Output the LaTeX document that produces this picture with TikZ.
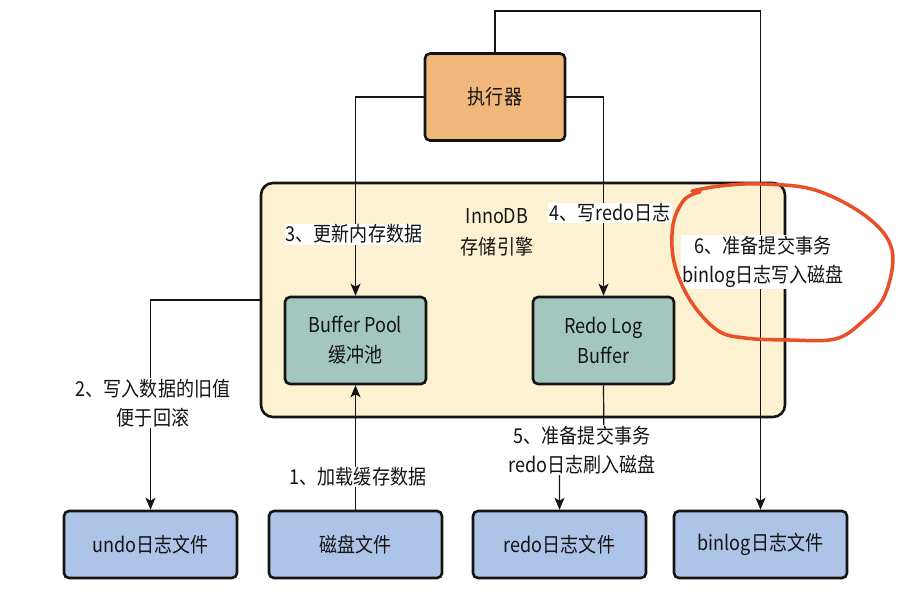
\documentclass[tikz,border=0pt]{standalone}
\usepackage{fontspec}
\setmainfont[FakeStretch=0.88]{Noto Sans CJK SC}
\usetikzlibrary{arrows.meta}
\definecolor{exefill}{RGB}{241,183,122}
\definecolor{tealfill}{RGB}{163,198,190}
\definecolor{bluefill}{RGB}{174,195,232}
\definecolor{contfill}{RGB}{252,241,208}
\definecolor{redmark}{RGB}{234,80,40}
\definecolor{ink}{RGB}{20,20,20}
\begin{document}
\begin{tikzpicture}[x=1pt,y=-1pt,
  box/.style={draw=ink, line width=2.6pt, rounded corners=5pt, align=center, text=ink,
     font=\fontsize{20.5}{30}\selectfont, inner sep=0pt},
  conn/.style={draw=ink, line width=1.2pt},
  arr/.style={conn, -{Stealth[length=12pt,width=10pt,inset=3pt]}},
  lbl/.style={fill=white, text=ink, align=center, font=\fontsize{20.5}{29}\selectfont, inner sep=1pt}
]
\useasboundingbox (0,0) rectangle (901,613);
\fill[white] (0,0) rectangle (901,613);

\node[box, fill=contfill, rounded corners=12pt, minimum width=524pt, minimum height=234pt] (container) at (523,300) {};
\node[box, fill=exefill, minimum width=140pt, minimum height=87pt] (exe) at (495,97) {执行器};
\node[box, fill=tealfill, minimum width=141pt, minimum height=87pt] (bufpool) at (355.5,340.5) {Buffer Pool\\缓冲池};
\node[box, fill=tealfill, minimum width=141pt, minimum height=87pt] (redobuf) at (603.5,340.5) {Redo Log\\Buffer};
\node[box, fill=bluefill, minimum width=173pt, minimum height=67pt] (undo) at (150.5,544.5) {undo日志文件};
\node[box, fill=bluefill, minimum width=173pt, minimum height=67pt] (disk) at (355.5,544.5) {磁盘文件};
\node[box, fill=bluefill, minimum width=173pt, minimum height=67pt] (redofile) at (559.5,544.5) {redo日志文件};
\node[box, fill=bluefill, minimum width=173pt, minimum height=67pt] (binlog) at (760.5,544.5) {binlog日志文件};

\node[text=ink, align=center, font=\fontsize{20.5}{31}\selectfont] (innodb) at (497,232) {InnoDB\\存储引擎};

\coordinate (topc) at (760.5,11);
\coordinate (bend5) at (604,450);

\draw[arr] (exe.west) -| (bufpool.north);
\draw[arr] (exe.east) -| (redobuf.north);
\draw[arr] (exe.north) |- (topc) -- (binlog.north);
\draw[arr] (container.west) -| (undo.north);
\draw[arr] (disk.north) -- (bufpool.south);
\draw[arr] (redobuf.south) -- (bend5) -| (redofile.north);

\node[lbl] (l1) at (358,477) {1、加载缓存数据};
\node[lbl] (l2) at (153,403) {2、写入数据的旧值\\便于回滚};
\node[lbl] (l3) at (354,234) {3、更新内存数据};
\node[lbl] (l4) at (610,213) {4、写redo日志};
\node[lbl] (l5) at (582,450) {5、准备提交事务\\redo日志刷入磁盘};
\node[lbl] (l6) at (763,262) {6、准备提交事务\\binlog日志写入磁盘};

\draw[redmark, line width=3.5pt, line cap=round, line join=round]
  plot[smooth, tension=0.6] coordinates {(692,191) (720,186) (760,184) (815,190) (867,217) (892,250) (885,295) (862,322) (835,339) (790,340) (745,338) (717,330) (690,300) (674,262) (673,225) (684,200) (700,192)};
\end{tikzpicture}
\end{document}
